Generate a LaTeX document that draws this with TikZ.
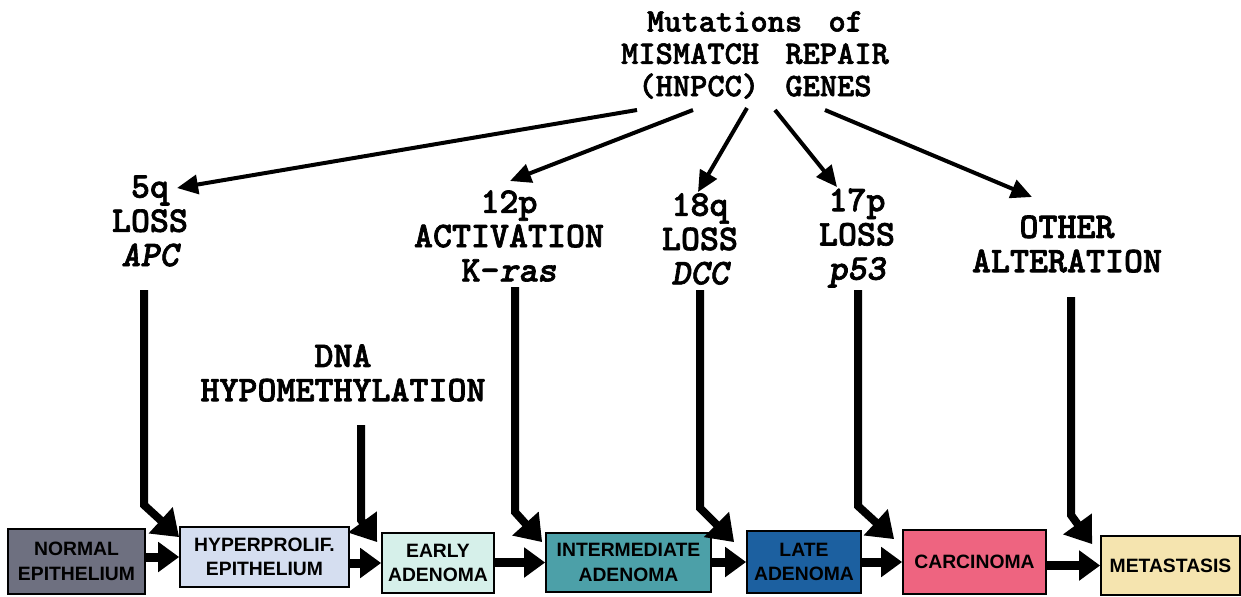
\documentclass[tikz,border=0pt]{standalone}
\usepackage{fontspec}
\setmainfont{Liberation Sans}
\newfontfamily\courfont{lmmonolt10-bold.otf}[ItalicFont=lmmonolt10-boldoblique.otf, FakeBold=1.8]
\usetikzlibrary{arrows.meta}
\definecolor{cNormal}{HTML}{6E7080}
\definecolor{cHyper}{HTML}{D5DEF0}
\definecolor{cEarly}{HTML}{D6F0EA}
\definecolor{cInter}{HTML}{4CA0A8}
\definecolor{cLate}{HTML}{1C60A0}
\definecolor{cCarc}{HTML}{EE6480}
\definecolor{cMeta}{HTML}{F5E4AF}
\begin{document}
\begin{tikzpicture}[x=0.02cm,y=-0.02cm,
  stagebox/.style={draw=black, line width=1pt, inner sep=0pt, align=center,
    font=\bfseries\fontsize{11}{14}\selectfont},
  lab/.style={inner sep=0pt, align=center, font=\courfont\fontsize{20.6}{19.5}\selectfont},
  toplab/.style={inner sep=0pt, align=center, font=\courfont\fontsize{18.7}{18.4}\selectfont},
  thinarrow/.style={line width=0.08cm, -{Triangle[length=0.42cm,width=0.38cm]}},
  hflow/.style={line width=0.18cm, -{Triangle[length=0.42cm,width=0.58cm]}},
  vflow/.style={line width=0.16cm, -{Triangle[length=0.5cm,width=0.68cm]}},
]
\path[use as bounding box] (0,0) rectangle (1241,596);

% stage boxes
\node[stagebox, fill=cNormal, minimum width=2.74cm, minimum height=1.30cm] (n1) at (76.5,561.5) {NORMAL\\EPITHELIUM};
\node[stagebox, fill=cHyper, minimum width=3.38cm, minimum height=1.20cm] (n2) at (264.5,557) {HYPERPROLIF.\\EPITHELIUM};
\node[stagebox, fill=cEarly, minimum width=2.24cm, minimum height=1.20cm] (n3) at (438,563) {EARLY\\ADENOMA};
\node[stagebox, fill=cInter, minimum width=3.30cm, minimum height=1.18cm] (n4) at (628.5,562.5) {INTERMEDIATE\\ADENOMA};
\node[stagebox, fill=cLate, minimum width=2.28cm, minimum height=1.24cm] (n5) at (804,562) {LATE\\ADENOMA};
\node[stagebox, fill=cCarc, minimum width=2.86cm, minimum height=1.28cm] (n6) at (974.5,562) {CARCINOMA};
\node[stagebox, fill=cMeta, minimum width=2.78cm, minimum height=1.18cm] (n7) at (1170.5,565.5) {METASTASIS};

% horizontal flow arrows
\draw[hflow] (n1.east |- n2.west) -- (n2.west);
\draw[hflow] (n2.east |- n3.west) -- (n3.west);
\draw[hflow] (n3.east |- n4.west) -- (n4.west);
\draw[hflow] (n4.east |- n5.west) -- (n5.west);
\draw[hflow] (n5.east |- n6.west) -- (n6.west);
\draw[hflow] (n6.east |- n7.west) -- (n7.west);

% top text
\node[toplab] (top) at (755,55) {Mutations\hspace{0.8em}of\\MISMATCH\hspace{0.8em}REPAIR\\(HNPCC)\hspace{0.8em}GENES};

% labels
\node[lab] (l5q) at (150,221) {5q\\LOSS\\\itshape APC};
\node[lab] (l12p) at (509,236) {12p\\ACTIVATION\\K-\textit{ras}};
\node[lab] (l18q) at (700,239) {18q\\LOSS\\\itshape DCC};
\node[lab] (l17p) at (857,238) {17p\\LOSS\\\itshape p53};
\node[lab] (lother) at (1067,244) {OTHER\\ALTERATION};
\node[lab] (ldna) at (343,373) {DNA\\HYPOMETHYLATION};

% top arrows
\coordinate (ts1) at (637,110); \coordinate (te1) at (177,188);
\coordinate (ts2) at (693,110); \coordinate (te2) at (510,181);
\coordinate (ts3) at (747,108); \coordinate (te3) at (698,192);
\coordinate (ts4) at (775,110); \coordinate (te4) at (837,187);
\coordinate (ts5) at (825,110); \coordinate (te5) at (1032,197);
\draw[thinarrow] (ts1) -- (te1);
\draw[thinarrow] (ts2) -- (te2);
\draw[thinarrow] (ts3) -- (te3);
\draw[thinarrow] (ts4) -- (te4);
\draw[thinarrow] (ts5) -- (te5);

% vertical arrows into stages
\coordinate (sA) at (144,290);  \coordinate (bA) at (144,505);
\coordinate (sD) at (361,425);  \coordinate (bD) at (361,520);
\coordinate (sK) at (515,287);  \coordinate (bK) at (515,512);
\coordinate (sC) at (700,290);  \coordinate (bC) at (700,508);
\coordinate (sP) at (858,290);  \coordinate (bP) at (858,506);
\coordinate (sO) at (1071,297); \coordinate (bO) at (1071,515);
\draw[vflow] (sA) -- (bA) -- ([yshift=-0.22cm]n2.north west);
\draw[vflow] (sD) -- (bD) -- ([xshift=-0.08cm,yshift=-0.2cm]n3.north west);
\draw[vflow] (sK) -- (bK) -- ([xshift=-0.06cm,yshift=-0.2cm]n4.north west);
\draw[vflow] (sC) -- (bC) -- ([xshift=-0.24cm,yshift=-0.24cm]n5.north west);
\draw[vflow] (sP) -- (bP) -- ([xshift=-0.16cm,yshift=-0.2cm]n6.north west);
\draw[vflow] (sO) -- (bO) -- ([xshift=-0.16cm,yshift=-0.18cm]n7.north west);
\end{tikzpicture}
\end{document}
